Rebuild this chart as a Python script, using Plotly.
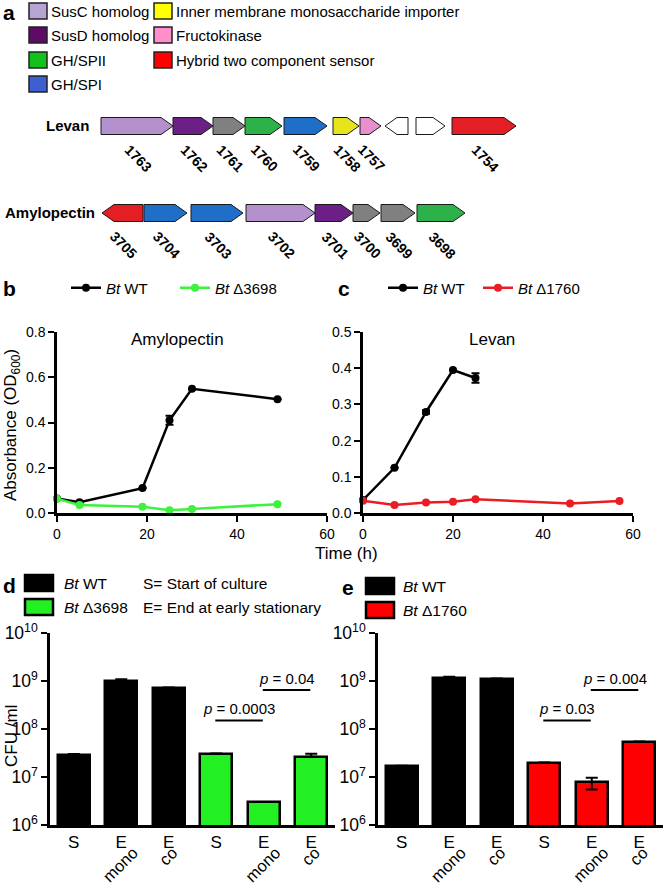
import numpy as np
import plotly.graph_objects as go

W, H = 665, 885
FONT = "Liberation Sans, Arial, Helvetica, sans-serif"

# ---------------- data ----------------
# Panel a: PUL gene maps (schematic map coordinates: gene start / end)
legend_names = ["SusC homolog", "SusD homolog", "GH/SPII", "GH/SPI",
                "Inner membrane monosaccharide importer", "Fructokinase",
                "Hybrid two component sensor"]
legend_kinds = ["susc", "susd", "gh2", "gh1", "imp", "fk", "htcs"]

levan_ids = ["1763", "1762", "1761", "1760", "1759", "1758", "1757", "", "", "1754"]
levan_start = [101, 173, 213, 245, 284, 333, 360, 385, 416, 452]
levan_end = [173, 213, 245, 282, 327, 359, 381, 408, 445, 516]
levan_strand = [1, 1, 1, 1, 1, 1, 1, -1, 1, 1]
levan_kind = ["susc", "susd", "other", "gh2", "gh1", "imp", "fk", "none", "none", "htcs"]

amy_ids = ["3705", "3704", "3703", "3702", "3701", "3700", "3699", "3698"]
amy_start = [102, 144, 191, 246, 315, 353, 381, 417]
amy_end = [143, 187, 243, 315, 353, 380, 415, 465]
amy_strand = [-1, 1, 1, 1, 1, 1, 1, 1]
amy_kind = ["htcs", "gh1", "gh1", "susc", "susd", "other", "other", "gh2"]

# Panel b: growth on amylopectin
b_time = [0, 5, 19, 25, 30, 49]
b_wt = [0.064, 0.048, 0.11, 0.41, 0.549, 0.503]
b_wt_err = [0, 0, 0, 0.02, 0, 0]
b_mut = [0.063, 0.035, 0.028, 0.012, 0.018, 0.039]

# Panel c: growth on levan
c_time_wt = [0, 7, 14, 20, 25]
c_wt = [0.036, 0.125, 0.279, 0.395, 0.373]
c_wt_err = [0, 0, 0.005, 0, 0.013]
c_time_mut = [0, 7, 14, 20, 25, 46, 57]
c_mut = [0.034, 0.022, 0.029, 0.031, 0.038, 0.026, 0.033]

# Panels d/e: CFU/ml
bar_cats = ["S", "E", "E", "S", "E", "E"]
sub_cats = ["mono", "co", "mono", "co"]
sub_pos = [1, 2, 4, 5]
d_wt = [2.9e7, 1.0e9, 7.1e8]
d_wt_err = [0.1e7, 0.09e9, 0.2e8]
d_mut = [3.0e7, 3.0e6, 2.65e7]
d_mut_err = [0.1e7, 0.0, 0.4e7]
e_wt = [1.72e7, 1.17e9, 1.1e9]
e_wt_err = [0.0, 0.05e9, 0.03e9]
e_mut = [2.0e7, 7.7e6, 5.4e7]
e_mut_err_plus = [0.0, 2.0e6, 0.1e7]
e_mut_err_minus = [0.0, 2.2e6, 0.0]
d_pvals = ["0.0003", "0.04"]
e_pvals = ["0.03", "0.004"]
p_levels = [1.5e8, 6.5e8]
p_pairs = [(3, 4), (4, 5)]

# ---------------- styles ----------------
gene_colors = {"susc": "#b490cc", "susd": "#6c1f84", "other": "#808080", "gh2": "#2db24a",
               "gh1": "#1f6fc8", "imp": "#e8e41c", "fk": "#e98fcb", "htcs": "#e31e25",
               "none": "#ffffff"}
legend_colors = {"susc": "#b7a3d4", "susd": "#5e0b66", "gh2": "#11c21a", "gh1": "#3d5fd1",
                 "imp": "#ffff00", "fk": "#ff8fca", "htcs": "#ff0000"}
GREEN = "#22f022"
RED = "#ff0000"
LRED = "#ea1c24"
LGREEN = "#3cf23c"


def px(xp):
    return xp / W


def py(yp):
    return 1 - yp / H


fig = go.Figure()

LEVAN_Y, AMY_Y = 126, 213


def arrow(s, e, strand, yc, h=8.5, tip=12):
    tip = min(tip, (e - s) * 0.62)
    ys = [yc - h, yc - h, yc, yc + h, yc + h, yc - h]
    if strand > 0:
        xs = [s, e - tip, e, e - tip, s, s]
    else:
        xs = [e, s + tip, s, s + tip, e, e]
    return xs, ys


def add_row(ids, starts, ends, strands, kinds, yc):
    for gid, s, e, st, k in zip(ids, starts, ends, strands, kinds):
        xs, ys = arrow(s, e, st, yc)
        fig.add_trace(go.Scatter(x=xs, y=ys, mode="lines", fill="toself",
                                 fillcolor=gene_colors[k],
                                 line=dict(color="#1a1a1a", width=1),
                                 hoverinfo="skip", showlegend=False,
                                 xaxis="x", yaxis="y"))
        if gid:
            fig.add_annotation(x=(s + e) / 2 + 1, y=yc + 32, xref="x", yref="y",
                               text="<b>%s</b>" % gid, textangle=45, showarrow=False,
                               font=dict(size=14, color="black", family=FONT),
                               xanchor="center", yanchor="middle")


add_row(levan_ids, levan_start, levan_end, levan_strand, levan_kind, LEVAN_Y)
add_row(amy_ids, amy_start, amy_end, amy_strand, amy_kind, AMY_Y)

fig.add_annotation(x=44, y=LEVAN_Y - 1, xref="x", yref="y", text="<b>Levan</b>", showarrow=False,
                   xanchor="left", yanchor="middle", font=dict(size=15, family=FONT, color="black"))
fig.add_annotation(x=3, y=AMY_Y - 1, xref="x", yref="y", text="<b>Amylopectin</b>", showarrow=False,
                   xanchor="left", yanchor="middle", font=dict(size=15, family=FONT, color="black"))

# legend of panel a
leg_pos = [(29, 11), (29, 35), (29, 60), (29, 84), (154, 11), (154, 35), (154, 60)]
shapes = []
for name, k, (lx, ly) in zip(legend_names, legend_kinds, leg_pos):
    shapes.append(dict(type="rect", xref="x", yref="y", x0=lx, x1=lx + 18, y0=ly - 8, y1=ly + 8,
                       fillcolor=legend_colors[k], line=dict(color="#222", width=1.5)))
    fig.add_annotation(x=lx + 20, y=ly, xref="x", yref="y", text=name, showarrow=False,
                       xanchor="left", yanchor="middle",
                       font=dict(size=15, family=FONT, color="black"))

# ---------------- panel b ----------------
fig.add_trace(go.Scatter(x=b_time, y=b_wt, mode="lines+markers", name="<i>Bt</i> WT",
                         line=dict(color="black", width=2.5), marker=dict(size=8, color="black"),
                         error_y=dict(type="data", array=b_wt_err, color="black", thickness=2, width=4),
                         cliponaxis=False, xaxis="x2", yaxis="y2", legend="legend"))
fig.add_trace(go.Scatter(x=b_time, y=b_mut, mode="lines+markers", name="<i>Bt</i> Δ3698",
                         line=dict(color=LGREEN, width=2.5), marker=dict(size=8, color=LGREEN),
                         cliponaxis=False, xaxis="x2", yaxis="y2", legend="legend2"))

# ---------------- panel c ----------------
fig.add_trace(go.Scatter(x=c_time_wt, y=c_wt, mode="lines+markers", name="<i>Bt</i> WT",
                         line=dict(color="black", width=2.5), marker=dict(size=8, color="black"),
                         error_y=dict(type="data", array=c_wt_err, color="black", thickness=2, width=4),
                         cliponaxis=False, xaxis="x3", yaxis="y3", legend="legend3"))
fig.add_trace(go.Scatter(x=c_time_mut, y=c_mut, mode="lines+markers", name="<i>Bt</i> Δ1760",
                         line=dict(color=LRED, width=2.5), marker=dict(size=8, color=LRED),
                         cliponaxis=False, xaxis="x3", yaxis="y3", legend="legend4"))

# ---------------- panels d / e ----------------
BW = 0.68


def add_bars(vals, errp, errm, color, xs, xa, ya):
    fig.add_trace(go.Bar(x=xs, y=vals, width=BW, marker=dict(color=color, line=dict(color="black", width=2.5)),
                         error_y=dict(type="data", symmetric=False, array=errp, arrayminus=errm,
                                      color="black", thickness=2, width=6),
                         showlegend=False, hoverinfo="skip", xaxis=xa, yaxis=ya))


add_bars(d_wt, d_wt_err, [0, 0, 0], "black", [0, 1, 2], "x4", "y4")
add_bars(d_mut, d_mut_err, [0, 0, 0], GREEN, [3, 4, 5], "x4", "y4")
add_bars(e_wt, e_wt_err, [0, 0, 0], "black", [0, 1, 2], "x5", "y5")
add_bars(e_mut, e_mut_err_plus, e_mut_err_minus, RED, [3, 4, 5], "x5", "y5")

for xa, ya, pv in (("x4", "y4", d_pvals), ("x5", "y5", e_pvals)):
    for (a, b), lev, p in zip(p_pairs, p_levels, pv):
        fig.add_trace(go.Scatter(x=[a - 0.02, b - 0.02], y=[lev, lev], mode="lines",
                                 line=dict(color="black", width=2), showlegend=False,
                                 hoverinfo="skip", cliponaxis=False, xaxis=xa, yaxis=ya))
        fig.add_annotation(x=(a + b) / 2 - 0.02, y=np.log10(lev) + 0.03, xref=xa, yref=ya,
                           text="<i>p</i> = %s" % p, showarrow=False, yanchor="bottom",
                           font=dict(size=15, family=FONT, color="black"))

# empty placeholder traces so the overlaid label axes (second row of category labels) get drawn
for xa, ya in (("x6", "y4"), ("x7", "y5")):
    fig.add_trace(go.Scatter(x=[None], y=[None], mode="markers", showlegend=False,
                             hoverinfo="skip", xaxis=xa, yaxis=ya))

# legends of d / e (keys)
for (bx, by, col) in ((25, 583, "black"), (25, 607, GREEN), (366, 586, "black"), (366, 610, RED)):
    shapes.append(dict(type="rect", xref="x", yref="y", x0=bx, x1=bx + 28, y0=by - 8, y1=by + 8,
                       fillcolor=col, line=dict(color="black", width=2.5)))
for (tx, ty, t) in ((62, 583, "<i>Bt</i> WT"), (62, 607, "<i>Bt</i> Δ3698"),
                    (141, 583, "S= Start of culture"), (141, 607, "E= End at early stationary"),
                    (401, 586, "<i>Bt</i> WT"), (401, 610, "<i>Bt</i> Δ1760")):
    fig.add_annotation(x=tx, y=ty, xref="x", yref="y", text=t, showarrow=False, xanchor="left",
                       yanchor="middle", font=dict(size=15.5, family=FONT, color="black"))

# panel letters and titles
for (tx, ty, t) in ((0.5, 12, "a"), (0.5, 288, "b"), (336, 288, "c"), (0.5, 585, "d"), (340, 587, "e")):
    fig.add_annotation(x=tx, y=ty, xref="x", yref="y", text="<b>%s</b>" % t, showarrow=False,
                       xanchor="left", yanchor="middle", font=dict(size=21, family=FONT, color="black"))

fig.add_annotation(x=177, y=339, xref="x", yref="y", text="Amylopectin", showarrow=False,
                   font=dict(size=17, family=FONT, color="black"))
fig.add_annotation(x=492, y=339, xref="x", yref="y", text="Levan", showarrow=False,
                   font=dict(size=17, family=FONT, color="black"))
fig.add_annotation(x=346, y=553, xref="x", yref="y", text="Time (h)", showarrow=False,
                   font=dict(size=17, family=FONT, color="black"))
fig.add_annotation(x=12, y=425, xref="x", yref="y", text="Absorbance (OD<sub>600</sub>)", textangle=-90,
                   showarrow=False, font=dict(size=17, family=FONT, color="black"))
fig.add_annotation(x=11, y=736, xref="x", yref="y", text="CFU /ml", textangle=-90,
                   showarrow=False, font=dict(size=17, family=FONT, color="black"))

axis_common = dict(showline=True, linecolor="black", linewidth=2.5, ticks="outside", ticklen=6,
                   tickwidth=2, tickcolor="black", showgrid=False, zeroline=False,
                   tickfont=dict(size=14, family=FONT, color="black"), fixedrange=True)

logvals = [1e6, 1e7, 1e8, 1e9, 1e10]
logtext = ["10<sup>%d</sup>" % i for i in range(6, 11)]
SUB_SHIFT = {"mono": 0.25, "co": 0.08}
sub_ticks = [p + SUB_SHIFT[s] for p, s in zip(sub_pos, sub_cats)]


def leg(xp):
    return dict(orientation="h", x=px(xp), y=py(288), xanchor="left", yanchor="middle",
                font=dict(size=15, family=FONT, color="black"), bgcolor="rgba(0,0,0,0)",
                itemwidth=30)


def cat_axis(d0, d1, anchor):
    return dict(domain=[px(d0), px(d1)], range=[-0.5, 5.5], tickvals=list(range(6)), ticktext=bar_cats,
                anchor=anchor, **{**axis_common, "ticks": "",
                                  "tickfont": dict(size=17, family=FONT, color="black")})


def sub_axis(d0, d1, anchor, over):
    return dict(domain=[px(d0), px(d1)], range=[-0.5, 5.5], tickvals=sub_ticks, ticktext=sub_cats,
                anchor=anchor, overlaying=over, side="bottom", showline=False, showgrid=False,
                zeroline=False, ticks="", tickangle=-45, ticklabelstandoff=14, fixedrange=True,
                tickfont=dict(size=16.5, family=FONT, color="black"))


def log_axis(anchor):
    return dict(domain=[py(825), py(633)], type="log", range=[6, 10], tickvals=logvals, ticktext=logtext,
                anchor=anchor, **{**axis_common, "tickfont": dict(size=17.5, family=FONT, color="black")})


fig.update_layout(
    autosize=True,
    margin=dict(l=0, r=0, t=0, b=0, autoexpand=False),
    paper_bgcolor="white", plot_bgcolor="rgba(0,0,0,0)",
    font=dict(family=FONT, color="black"),
    shapes=shapes,
    xaxis=dict(domain=[0, 1], range=[0, W], visible=False, fixedrange=True),
    yaxis=dict(domain=[0, 1], range=[H, 0], visible=False, fixedrange=True),
    xaxis2=dict(domain=[px(57), px(327)], range=[0, 60], tickvals=[0, 20, 40, 60], anchor="y2", **axis_common),
    yaxis2=dict(domain=[py(513), py(332)], range=[0, 0.8], tickvals=[0, 0.2, 0.4, 0.6, 0.8],
                tickformat=".1f", anchor="x2", **axis_common),
    xaxis3=dict(domain=[px(363), px(633)], range=[0, 60], tickvals=[0, 20, 40, 60], anchor="y3", **axis_common),
    yaxis3=dict(domain=[py(513), py(332)], range=[0, 0.5], tickvals=[0, 0.1, 0.2, 0.3, 0.4, 0.5],
                tickformat=".1f", anchor="x3", **axis_common),
    xaxis4=cat_axis(50, 335, "y4"),
    yaxis4=log_axis("x4"),
    xaxis5=cat_axis(378, 663, "y5"),
    yaxis5=log_axis("x5"),
    xaxis6=sub_axis(50, 335, "y4", "x4"),
    xaxis7=sub_axis(378, 663, "y5", "x5"),
    legend=leg(66), legend2=leg(175), legend3=leg(383), legend4=leg(478),
    bargap=0,
)

# the graph div is pinned to the page's top-left corner at exactly 665 x 885 px
fig.write_html("out.html", config={"displayModeBar": False},
               default_width="%dpx" % W,
               default_height="%dpx; position:absolute; left:0px; top:0px" % H)
